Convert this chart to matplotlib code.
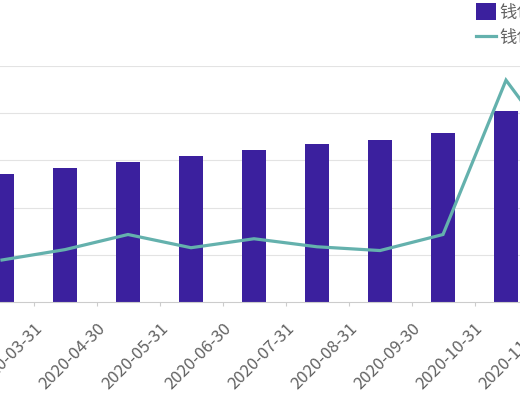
import matplotlib
matplotlib.use("Agg")
import matplotlib.pyplot as plt
from matplotlib.patches import Patch
from matplotlib.lines import Line2D

plt.rcParams['font.family'] = ['Noto Sans CJK SC', 'DejaVu Sans']

# Data (one grid step = 100)
dates = ['2020-03-31', '2020-04-30', '2020-05-31', '2020-06-30', '2020-07-31',
         '2020-08-31', '2020-09-30', '2020-10-31', '2020-11-30', '2020-12-31']
bar_values = [272, 283, 296, 309, 321, 334, 343, 357, 404, 420]
line_values = [89, 111, 143, 115, 134, 117, 109, 143, 470, 290]
bar_name = '钱包余额'
line_name = '钱包余额同比'

BAR_COLOR = '#3b209e'
LINE_COLOR = '#64b1ad'
GRID_COLOR = '#e3e3e3'
TEXT_COLOR = '#626262'

W, H = 520, 400
STEP = 63      # px per category
X0 = 2         # px of first bar centre

fig = plt.figure(figsize=(W / 100, H / 100), dpi=100)
# the original is a crop, so the axes runs past both side edges
left_px = X0 - STEP / 2
ax = fig.add_axes([left_px / W, 98 / H, STEP * len(dates) / W, 236 / H])

x = list(range(len(dates)))
ax.bar(x, bar_values, width=24 / STEP, color=BAR_COLOR, zorder=2)
ax.plot(x, line_values, color=LINE_COLOR, lw=2.3, zorder=3, solid_joinstyle='miter')

ax.set_yticks([100, 200, 300, 400, 500])
ax.set_yticklabels([])
ax.tick_params(axis='y', length=0)
ax.grid(axis='y', color=GRID_COLOR, lw=0.8, zorder=0)

for side in ['left', 'right', 'top']:
    ax.spines[side].set_visible(False)
ax.spines['bottom'].set_color('#cccccc')
ax.spines['bottom'].set_linewidth(0.8)

ax.set_xticks([i + 0.5 for i in x])
ax.set_xticklabels(dates, rotation=45, ha='right', va='top', rotation_mode='anchor',
                   fontsize=12, color=TEXT_COLOR)
ax.tick_params(axis='x', length=3, width=0.8, color='#cccccc', pad=10)

ax.set_xlim(-0.5, len(dates) - 0.5)
ax.set_ylim(0, 500)

handles = [Patch(facecolor=BAR_COLOR, edgecolor='none'),
           Line2D([0], [0], color=LINE_COLOR, lw=2.3)]
fig.legend(handles, [bar_name, line_name], loc='upper left',
           bbox_to_anchor=(476 / W, 1 - 3 / H), frameon=False,
           fontsize=12.5, handlelength=1.15, handleheight=1.15,
           handletextpad=0.2, labelspacing=0.4, borderpad=0, borderaxespad=0,
           labelcolor=TEXT_COLOR)

fig.savefig('out.png', dpi=100)
